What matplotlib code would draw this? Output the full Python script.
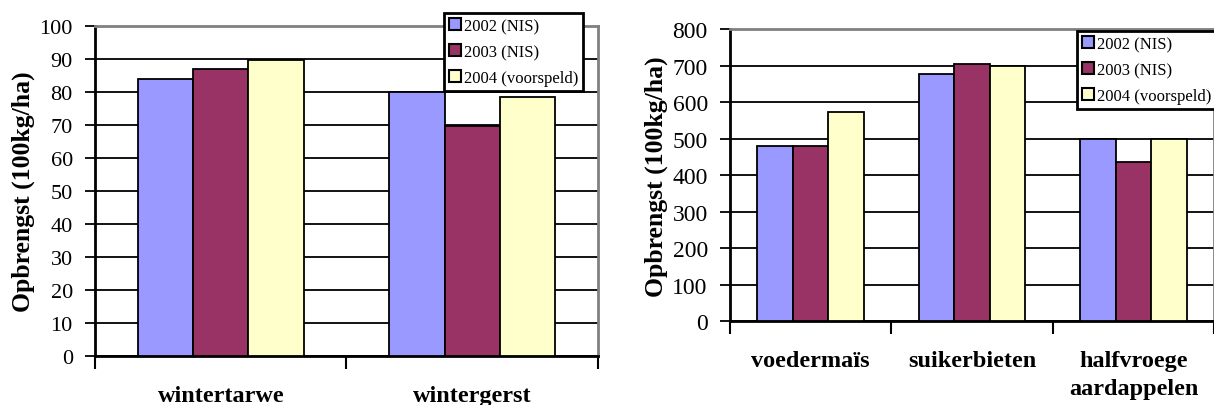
import matplotlib
matplotlib.use("Agg")
import matplotlib.pyplot as plt
import numpy as np

# gegevens
series = ["2002 (NIS)", "2003 (NIS)", "2004 (voorspeld)"]
colors = ["#9999FF", "#993366", "#FFFFCC"]

granen = ["wintertarwe", "wintergerst"]
granen_2002 = [84, 80]
granen_2003 = [87, 69.5]
granen_2004 = [89.5, 78.5]

rooivruchten = ["voedermaïs", "suikerbieten", "halfvroege\naardappelen"]
rooi_2002 = [481, 678, 500]
rooi_2003 = [481, 706, 437]
rooi_2004 = [574, 700, 500]

plt.rcParams['font.family'] = ['Liberation Serif', 'DejaVu Serif']

fig = plt.figure(figsize=(12.14, 4.06), dpi=100)


def draw_chart(ax, cats, values, ymax, ystep, leg_anchor, tick_fs):
    n = len(cats)
    centers = np.arange(n) + 0.5
    w = 0.22
    for k, vals in enumerate(values):
        ax.bar(centers + (k - 1) * w, vals, width=w, color=colors[k],
               edgecolor="black", linewidth=1.3, label=series[k], zorder=3)
    ax.set_xlim(0, n)
    ax.set_ylim(0, ymax)
    ax.set_yticks(np.arange(0, ymax + 1, ystep))
    ax.yaxis.grid(True, color="black", linewidth=1.3, zorder=0)
    ax.set_axisbelow(True)
    ax.tick_params(axis="y", length=7, width=1.3, pad=9, labelsize=tick_fs)

    # categoriegrenzen als grote ticks, namen als kleine ticks
    ax.set_xticks(np.arange(n + 1))
    ax.set_xticklabels([])
    ax.tick_params(axis="x", which="major", length=9, width=1.5, direction="out")
    ax.set_xticks(centers, minor=True)
    ax.set_xticklabels(cats, minor=True, fontweight="bold", fontsize=17.5, linespacing=1.4)
    ax.tick_params(axis="x", which="minor", length=0, pad=21)

    for s in ["left", "bottom"]:
        ax.spines[s].set_linewidth(2)
        ax.spines[s].set_color("black")
    for s in ["top", "right"]:
        ax.spines[s].set_linewidth(2)
        ax.spines[s].set_color("#808080")

    ax.set_ylabel("Opbrengst (100kg/ha)", fontweight="bold", fontsize=18.5, labelpad=3)

    leg = ax.legend(loc="upper left", bbox_to_anchor=leg_anchor,
                    bbox_transform=fig.transFigure, fontsize=12,
                    fancybox=False, framealpha=1, edgecolor="black",
                    handlelength=0.75, handleheight=0.75, handletextpad=0.15,
                    labelspacing=0.6, borderpad=0.3, borderaxespad=0)
    leg.get_frame().set_linewidth(2)
    for h in leg.legend_handles:
        h.set_linewidth(1.5)
    leg.set_zorder(10)


ax1 = fig.add_axes([0.07825, 0.1214, 0.41433, 0.8128])
draw_chart(ax1, granen, [granen_2002, granen_2003, granen_2004], 100, 10,
           (0.3657, 0.9655), 16)

ax2 = fig.add_axes([0.6013, 0.2062, 0.3990, 0.7187])
draw_chart(ax2, rooivruchten, [rooi_2002, rooi_2003, rooi_2004], 800, 100,
           (0.8871, 0.9212), 17)

fig.savefig("out.png", dpi=100)
